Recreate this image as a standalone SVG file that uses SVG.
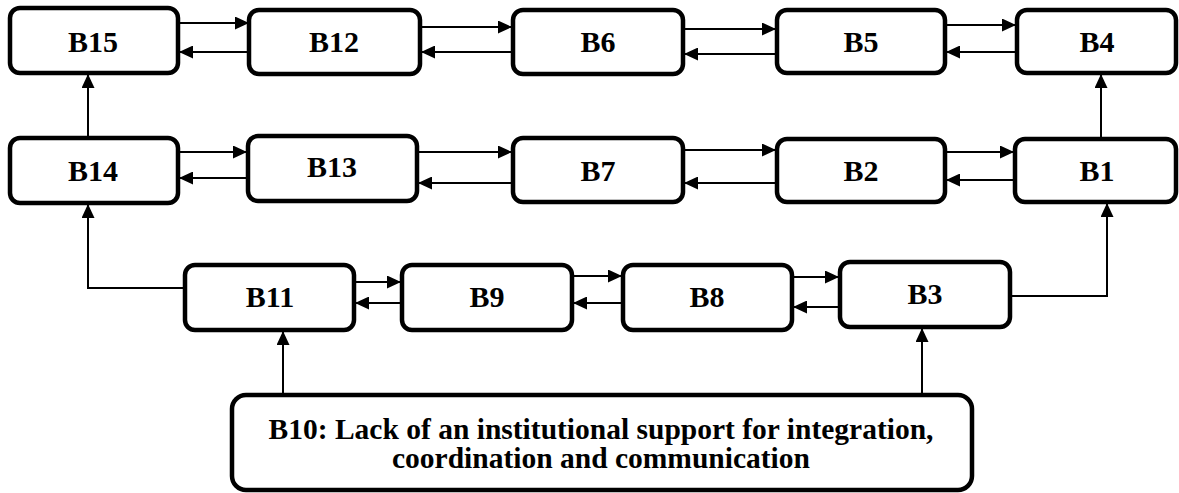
<svg xmlns="http://www.w3.org/2000/svg" width="1179" height="493" viewBox="0 0 1179 493">
  <style>
    .box { fill: #ffffff; stroke: #000000; stroke-width: 4.5; }
    .lbl { font-family: "Liberation Serif", "Times New Roman", serif; font-weight: bold; font-size: 30px; fill: #000000; text-anchor: middle; }
    .big { font-size: 29.5px; }
    .link { fill: none; stroke: #000000; stroke-width: 2; marker-end: url(#arrow); }
  </style>
  <defs>
    <marker id="arrow" viewBox="0 0 14 13" refX="14" refY="6.5" markerWidth="14" markerHeight="13" markerUnits="userSpaceOnUse" orient="auto">
      <path d="M0,0 L14,6.5 L0,13 Z" fill="#000000"/>
    </marker>
  </defs>

  <!-- connectors -->
  <g id="connectors">
    <!-- top row -->
    <line class="link" x1="180" y1="23" x2="249" y2="23"/>
    <line class="link" x1="248" y1="52" x2="179" y2="52"/>
    <line class="link" x1="422" y1="27" x2="512" y2="27"/>
    <line class="link" x1="512" y1="52" x2="421" y2="52"/>
    <line class="link" x1="685" y1="29" x2="776" y2="29"/>
    <line class="link" x1="776" y1="54" x2="684" y2="54"/>
    <line class="link" x1="947" y1="25" x2="1016" y2="25"/>
    <line class="link" x1="1015" y1="52" x2="946" y2="52"/>
    <!-- middle row -->
    <line class="link" x1="180" y1="152" x2="247" y2="152"/>
    <line class="link" x1="247" y1="178" x2="179" y2="178"/>
    <line class="link" x1="419" y1="152" x2="512" y2="152"/>
    <line class="link" x1="512" y1="183" x2="418" y2="183"/>
    <line class="link" x1="685" y1="150" x2="776" y2="150"/>
    <line class="link" x1="776" y1="183" x2="684" y2="183"/>
    <line class="link" x1="947" y1="152" x2="1014" y2="152"/>
    <line class="link" x1="1014" y1="180" x2="946" y2="180"/>
    <!-- upward links between rows -->
    <line class="link" x1="88" y1="136" x2="88" y2="74"/>
    <line class="link" x1="1101" y1="137" x2="1101" y2="74"/>
    <!-- bottom row -->
    <line class="link" x1="356" y1="282" x2="401" y2="282"/>
    <line class="link" x1="401" y1="303" x2="355" y2="303"/>
    <line class="link" x1="574" y1="276" x2="622" y2="276"/>
    <line class="link" x1="622" y1="303" x2="573" y2="303"/>
    <line class="link" x1="794" y1="277" x2="839" y2="277"/>
    <line class="link" x1="839" y1="307" x2="793" y2="307"/>
    <polyline class="link" points="183,288 88,288 88,204"/>
    <polyline class="link" points="1011,296 1107,296 1107,203"/>
    <!-- from B10 -->
    <line class="link" x1="283" y1="393" x2="283" y2="331"/>
    <line class="link" x1="922" y1="393" x2="922" y2="328"/>
  </g>

  <!-- top row -->
  <g id="B15"><rect class="box" x="10" y="8" width="168" height="65" rx="10"/><text class="lbl" x="93" y="52">B15</text></g>
  <g id="B12"><rect class="box" x="249" y="10" width="171" height="64" rx="10"/><text class="lbl" x="334" y="52">B12</text></g>
  <g id="B6"><rect class="box" x="513" y="10" width="170" height="64" rx="10"/><text class="lbl" x="598" y="52">B6</text></g>
  <g id="B5"><rect class="box" x="777" y="10" width="168" height="63" rx="10"/><text class="lbl" x="861" y="52">B5</text></g>
  <g id="B4"><rect class="box" x="1017" y="10" width="159" height="63" rx="10"/><text class="lbl" x="1097" y="52">B4</text></g>

  <!-- middle row -->
  <g id="B14"><rect class="box" x="10" y="138" width="168" height="65" rx="10"/><text class="lbl" x="93" y="181">B14</text></g>
  <g id="B13"><rect class="box" x="248" y="136" width="169" height="65" rx="10"/><text class="lbl" x="332" y="177">B13</text></g>
  <g id="B7"><rect class="box" x="513" y="138" width="170" height="64" rx="10"/><text class="lbl" x="598" y="181">B7</text></g>
  <g id="B2"><rect class="box" x="777" y="139" width="168" height="63" rx="10"/><text class="lbl" x="861" y="181">B2</text></g>
  <g id="B1"><rect class="box" x="1015" y="139" width="161" height="63" rx="10"/><text class="lbl" x="1097" y="181">B1</text></g>

  <!-- bottom row -->
  <g id="B11"><rect class="box" x="185" y="265" width="169" height="65" rx="10"/><text class="lbl" x="270" y="307">B11</text></g>
  <g id="B9"><rect class="box" x="402" y="265" width="170" height="65" rx="10"/><text class="lbl" x="487" y="307">B9</text></g>
  <g id="B8"><rect class="box" x="623" y="265" width="169" height="65" rx="10"/><text class="lbl" x="707" y="307">B8</text></g>
  <g id="B3"><rect class="box" x="840" y="262" width="170" height="65" rx="10"/><text class="lbl" x="925" y="304">B3</text></g>

  <!-- root cause -->
  <g id="B10">
    <rect class="box" x="232" y="395" width="740" height="95" rx="14"/>
    <text class="lbl big" x="601" y="439">B10: Lack of an institutional support for integration,</text>
    <text class="lbl big" x="601" y="468">coordination and communication</text>
  </g>
</svg>
